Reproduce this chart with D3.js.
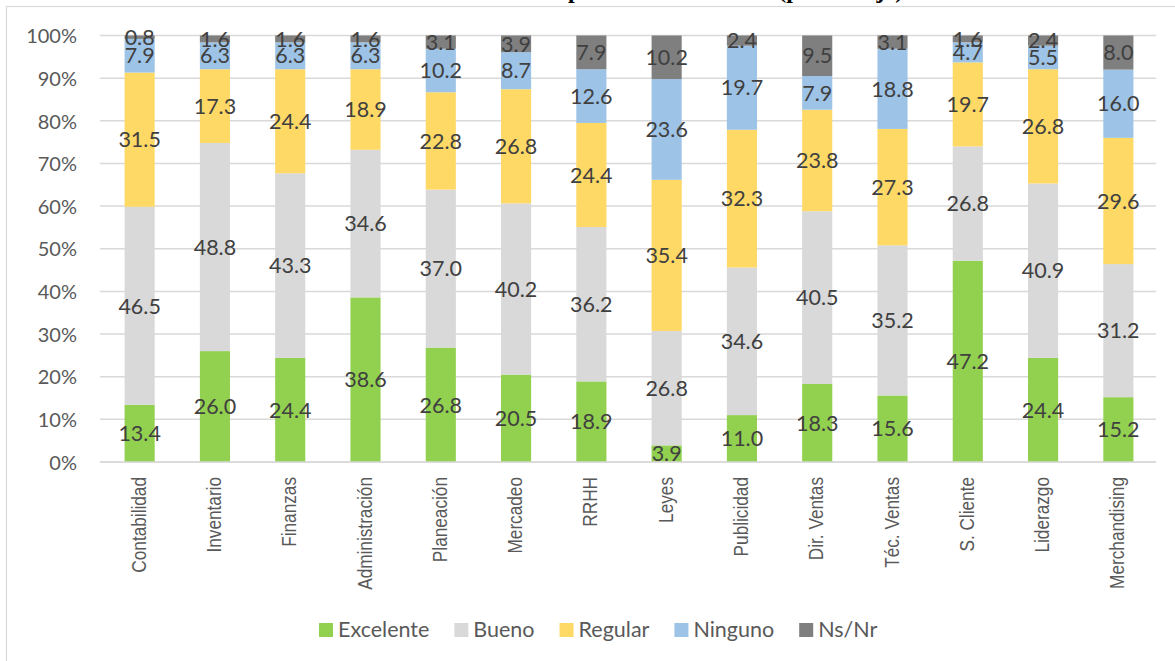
<!DOCTYPE html>
<html lang="es">
<head>
<meta charset="utf-8">
<script src="https://cdn.jsdelivr.net/npm/d3@7"></script>
<style>
  html, body { margin: 0; padding: 0; background: #fff; }
  svg { display: block; }
</style>
</head>
<body>
<svg id="chart" width="1175" height="661"></svg>
<script>
// Áreas temáticas evaluadas
const categories = ["Contabilidad", "Inventario", "Finanzas", "Administración", "Planeación",
  "Mercadeo", "RRHH", "Leyes", "Publicidad", "Dir. Ventas", "Téc. Ventas", "S. Cliente",
  "Liderazgo", "Merchandising"];

// Porcentaje de respuestas por calificación
const excelente = [13.4, 26.0, 24.4, 38.6, 26.8, 20.5, 18.9, 3.9, 11.0, 18.3, 15.6, 47.2, 24.4, 15.2];
const bueno     = [46.5, 48.8, 43.3, 34.6, 37.0, 40.2, 36.2, 26.8, 34.6, 40.5, 35.2, 26.8, 40.9, 31.2];
const regular   = [31.5, 17.3, 24.4, 18.9, 22.8, 26.8, 24.4, 35.4, 32.3, 23.8, 27.3, 19.7, 26.8, 29.6];
const ninguno   = [7.9, 6.3, 6.3, 6.3, 10.2, 8.7, 12.6, 23.6, 19.7, 7.9, 18.8, 4.7, 5.5, 16.0];
const nsnr      = [0.8, 1.6, 1.6, 1.6, 3.1, 3.9, 7.9, 10.2, 2.4, 9.5, 3.1, 1.6, 2.4, 8.0];

const seriesNames = ["Excelente", "Bueno", "Regular", "Ninguno", "Ns/Nr"];
const seriesValues = [excelente, bueno, regular, ninguno, nsnr];
const seriesColors = ["#92D050", "#D9D9D9", "#FFD966", "#9DC3E6", "#7F7F7F"];
const yTickValues = [0, 0.1, 0.2, 0.3, 0.4, 0.5, 0.6, 0.7, 0.8, 0.9, 1.0];

const titleText = "Calificación de los temas de capacitación recibidos (porcentaje)";

// Filas para d3.stack
const rows = categories.map((c, i) => {
  const r = { cat: c };
  seriesNames.forEach((s, j) => { r[s] = seriesValues[j][i]; });
  return r;
});

const svg = d3.select("#chart");

// Marco del gráfico
svg.append("rect")
  .attr("x", 6.5).attr("y", 6.5)
  .attr("width", 1300).attr("height", 800)
  .attr("fill", "none").attr("stroke", "#D9D9D9").attr("stroke-width", 1.2);

// Título (queda por encima del marco)
svg.append("text")
  .attr("x", 580).attr("y", -2)
  .attr("text-anchor", "middle")
  .attr("font-family", "Liberation Serif, serif")
  .attr("font-weight", "bold")
  .attr("font-size", 24)
  .attr("fill", "#000")
  .text(titleText);

const x = d3.scaleBand()
  .domain(categories)
  .range([102, 1156])
  .paddingInner(0.6)
  .paddingOuter(0.3);

const y = d3.scaleLinear().domain([0, 1]).range([462, 35.5]);

// Líneas de cuadrícula
svg.append("g")
  .selectAll("line")
  .data(yTickValues)
  .join("line")
  .attr("x1", 100).attr("x2", 1156)
  .attr("y1", d => y(d)).attr("y2", d => y(d))
  .attr("stroke", "#D9D9D9").attr("stroke-width", 1.5);

// Eje Y
const yAxis = d3.axisLeft(y).tickValues(yTickValues).tickFormat(d3.format(".0%")).tickSize(0).tickPadding(0);
const yg = svg.append("g").attr("transform", "translate(77,0)").call(yAxis);
yg.select(".domain").remove();
yg.selectAll("text")
  .attr("font-family", "Lato, sans-serif")
  .attr("font-size", 20)
  .attr("fill", "#595959")
  .attr("dy", "0.36em");

// Barras apiladas al 100%
const stack = d3.stack().keys(seriesNames).offset(d3.stackOffsetExpand);
const stacked = stack(rows);

const layers = svg.append("g")
  .selectAll("g")
  .data(stacked)
  .join("g")
  .attr("fill", (d, i) => seriesColors[i]);

layers.selectAll("rect")
  .data(d => d)
  .join("rect")
  .attr("x", d => x(d.data.cat))
  .attr("width", x.bandwidth())
  .attr("y", d => y(d[1]))
  .attr("height", d => y(d[0]) - y(d[1]));

// Eje X (línea base)
svg.append("line")
  .attr("x1", 100).attr("x2", 1156)
  .attr("y1", y(0)).attr("y2", y(0))
  .attr("stroke", "#D9D9D9").attr("stroke-width", 1.5);

// Etiquetas de datos
const labels = svg.append("g");
stacked.forEach((layer, j) => {
  labels.selectAll(null)
    .data(layer)
    .join("text")
    .attr("x", d => x(d.data.cat) + x.bandwidth() / 2)
    .attr("y", d => (y(d[0]) + y(d[1])) / 2)
    .attr("dy", "0.36em")
    .attr("text-anchor", "middle")
    .attr("font-family", "Lato, sans-serif")
    .attr("font-size", 21.5)
    .attr("fill", "#404040")
    .text((d, i) => d3.format(".1f")(seriesValues[j][i]));
});

// Etiquetas de categoría (verticales)
const xAxis = d3.axisBottom(x).tickSize(0).tickPadding(0);
const xg = svg.append("g").attr("transform", `translate(0,${y(0)})`).call(xAxis);
xg.select(".domain").remove();
xg.selectAll(".tick text")
  .attr("font-family", "Liberation Sans, Arial, sans-serif")
  .attr("font-size", 21)
  .attr("fill", "#595959")
  .attr("text-anchor", "end")
  .attr("y", 0).attr("dy", 0)
  .attr("transform", "translate(6,15) rotate(-90) scale(0.82,1)");

// Leyenda
const legend = svg.append("g").attr("transform", "translate(319,623)");
let lx = 0;
seriesNames.forEach((name, i) => {
  const g = legend.append("g").attr("transform", `translate(${lx},0)`);
  g.append("rect").attr("width", 14).attr("height", 14).attr("fill", seriesColors[i]);
  const t = g.append("text")
    .attr("x", 19).attr("y", 14)
    .attr("font-family", "Lato, sans-serif")
    .attr("font-size", 21.5)
    .attr("fill", "#595959")
    .text(name);
  lx += 19 + t.node().getComputedTextLength() + 25;
});
</script>
</body>
</html>
